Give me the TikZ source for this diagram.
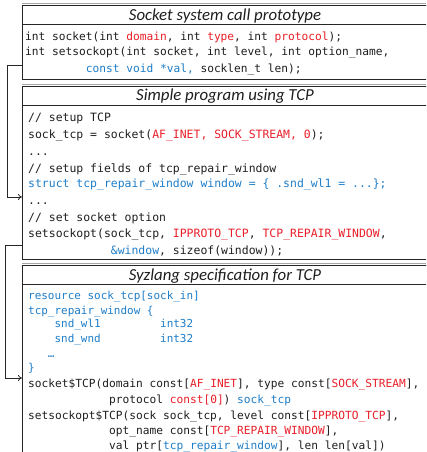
\documentclass[tikz,border=0pt]{standalone}
\usepackage{fontspec}
\setmonofont{DejaVu Sans Mono}
\newfontfamily\titlefont{Carlito}
\usetikzlibrary{arrows.meta,calc}
\definecolor{cred}{RGB}{232,30,40}
\definecolor{cblue}{RGB}{30,125,200}
\definecolor{ctext}{RGB}{30,30,30}
\newcommand\rd[1]{\textcolor{cred}{#1}}
\newcommand\bl[1]{\textcolor{cblue}{#1}}
\newcommand\sk[1]{\hspace*{#1\fontcharwd\font`\0}}
\frenchspacing
\begin{document}
\begin{tikzpicture}[x=1pt,y=-1pt,
  box/.style={draw=black!85, line width=0.9pt, rectangle, anchor=north west,
    minimum width=406pt, inner sep=0pt, outer sep=0pt},
  ttl/.style={box, minimum height=19pt},
  ttltext/.style={font=\titlefont\itshape\fontsize{16.8}{17}\selectfont, text=ctext, anchor=base, inner sep=0pt},
  codeA/.style={font=\ttfamily\fontsize{11.2}{12}\selectfont, text=ctext, anchor=base west, inner sep=0pt},
  codeB/.style={font=\ttfamily\fontsize{11.45}{12}\selectfont, text=ctext, anchor=base west, inner sep=0pt},
  codeC/.style={font=\ttfamily\fontsize{10.96}{12}\selectfont, text=ctext, anchor=base west, inner sep=0pt},
  conn/.style={draw=black!85, line width=0.8pt, -{To[length=4pt,width=6pt]}},
  shade/.style={draw=black!35, line width=1pt}
]
\useasboundingbox (0,0) rectangle (426,452);
\clip (0,0) rectangle (426,452);

% boxes
\node[box, minimum height=74pt] (b1) at (22,5) {};
\node[ttl] (t1) at (22,5) {};
\node[box, minimum height=173pt] (b2) at (22,86) {};
\node[ttl] (t2) at (22,86) {};
\node[box, minimum height=205pt] (b3) at (22,265) {};
\node[ttl] (t3) at (22,265) {};
\draw[shade] ([yshift=1.4pt]b1.north west) -- ([yshift=1.4pt]b1.north east);
\draw[shade] ([yshift=1.4pt]b2.north west) -- ([yshift=1.4pt]b2.north east);
\draw[shade] ([yshift=1.4pt]b3.north west) -- ([yshift=1.4pt]b3.north east);

% titles
\node[ttltext] (tt1) at (225,20.5) {Socket system call prototype};
\node[ttltext] (tt2) at (225,100.5) {Simple program using TCP};
\node[ttltext] (tt3) at (225,280.5) {Syzlang specification for TCP};

% box 1
\node[codeA] (a1) at (25,41) {int socket(int \rd{domain}, int \rd{type}, int \rd{protocol});};
\node[codeA] (a2) at (25,56) {int setsockopt(int socket, int level, int option\_name,};
\node[codeA] (a3) at (25,72) {\sk{9}\bl{const void *val,} socklen\_t len);};

% box 2
\node[codeB] (p1) at (28,121) {// setup TCP};
\node[codeB] (p2) at (28,138) {sock\_tcp = socket(\rd{AF\_INET, SOCK\_STREAM, 0});};
\node[codeB] (p3) at (28,155) {...};
\node[codeB] (p4) at (28,172) {// setup fields of tcp\_repair\_window};
\node[codeB] (p5) at (28,187) {\bl{struct tcp\_repair\_window window = \{ .snd\_wl1 = ...\};}};
\node[codeB] (p6) at (28,204) {...};
\node[codeB] (p7) at (28,221) {// set socket option};
\node[codeB] (p8) at (28,237) {setsockopt(sock\_tcp, \rd{IPPROTO\_TCP}, \rd{TCP\_REPAIR\_WINDOW},};
\node[codeB] (p9) at (28,254) {\sk{12}\bl{\&window}, sizeof(window));};

% box 3
\node[codeC] (s1) at (28,299) {\bl{resource sock\_tcp[sock\_in]}};
\node[codeC] (s2) at (28,314) {\bl{tcp\_repair\_window \{}};
\node[codeC] (s3) at (28,327) {\bl{\sk{4}snd\_wl1\sk{9}int32}};
\node[codeC] (s4) at (28,342) {\bl{\sk{4}snd\_wnd\sk{9}int32}};
\node[codeC] (s5) at (28,357) {\bl{\sk{3}…}};
\node[codeC] (s6) at (28,371) {\bl{\}}};
\node[codeA] (s7) at (28,387) {socket\$TCP(domain const[\rd{AF\_INET}], type const[\rd{SOCK\_STREAM}],};
\node[codeA] (s8) at (28,403) {\sk{12}protocol \rd{const[0]}) \bl{sock\_tcp}};
\node[codeA] (s9) at (28,419) {setsockopt\$TCP(sock sock\_tcp, level const[\rd{IPPROTO\_TCP}],};
\node[codeA] (s10) at (28,434) {\sk{12}opt\_name const[\rd{TCP\_REPAIR\_WINDOW}],};
\node[codeA] (s11) at (28,449) {\sk{12}val ptr[\bl{tcp\_repair\_window}], len len[val])};

% connectors
\draw[conn] ([yshift=-60pt]b1.north west) -- ++(-15pt,0) |- ([yshift=-111pt]b2.north west);
\draw[conn] ([yshift=-159pt]b2.north west) -- ++(-16.5pt,0) |- ([yshift=-113pt]b3.north west);
\end{tikzpicture}
\end{document}
